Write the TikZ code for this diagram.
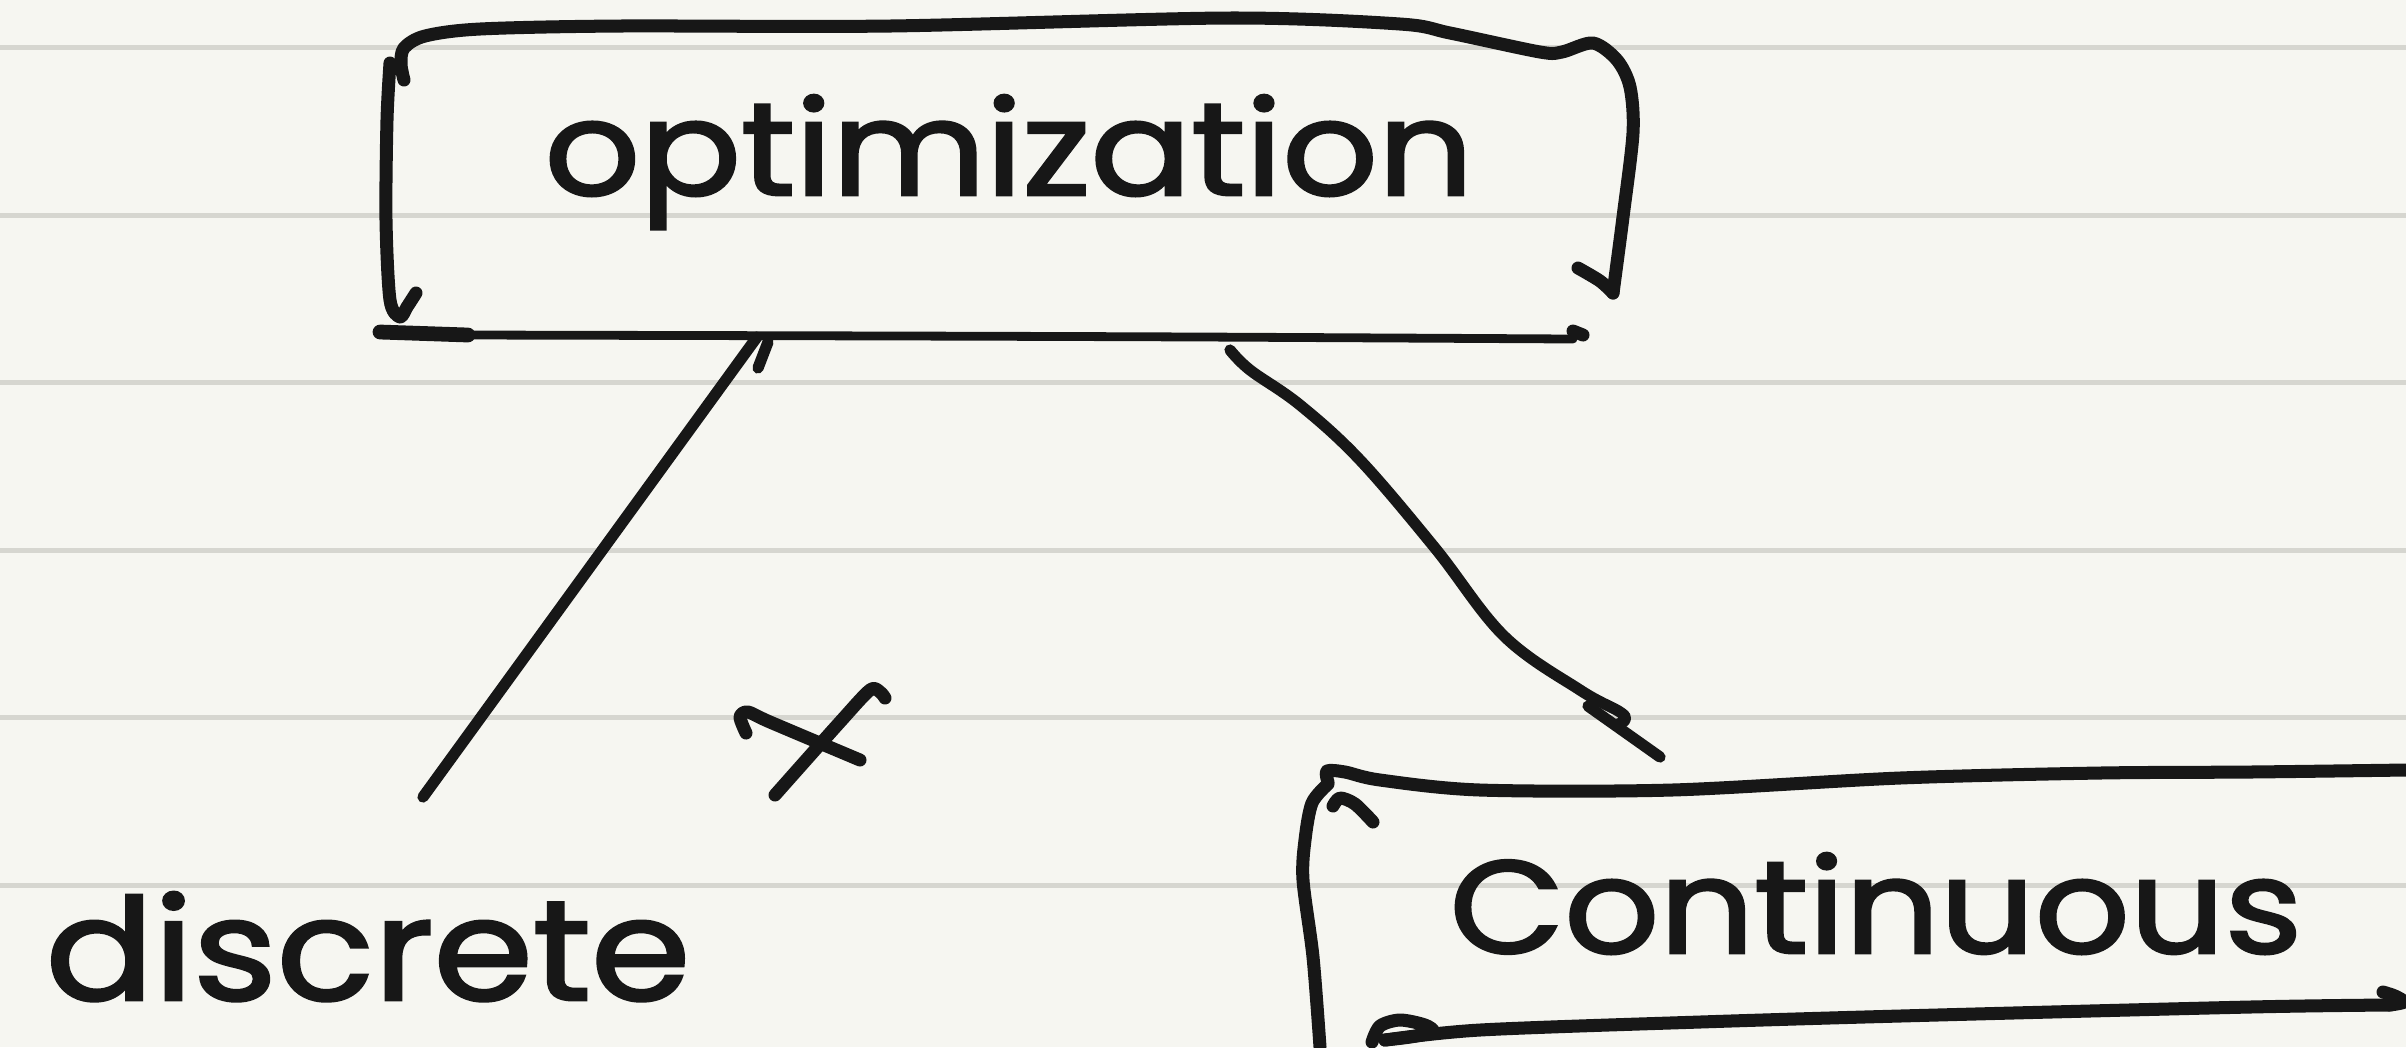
\documentclass[tikz,border=0pt]{standalone}
\usepackage{fontspec}
\setmainfont{Poppins}[FakeBold=2]
\usepackage{graphicx}
\definecolor{paper}{HTML}{F6F6F1}
\definecolor{rule}{HTML}{D6D6D0}
\definecolor{ink}{HTML}{171717}
\newcommand\fitbox[3]{\resizebox{#1}{#2}{#3}}
\tikzset{
  pen/.style={draw=ink, line width=3.7pt, line cap=round, line join=round},
  thinpen/.style={draw=ink, line width=3.2pt, line cap=round, line join=round},
  hairpen/.style={draw=ink, line width=2.5pt, line cap=round, line join=round},
  ruleline/.style={draw=rule, line width=1.4pt},
  hand/.style={inner sep=0pt, outer sep=0pt, anchor=base, text=ink},
}
\begin{document}
\begin{tikzpicture}[x=0.01cm, y=-0.01cm]
\useasboundingbox (0,0) rectangle (2406,1047);
\fill[paper] (0,0) rectangle (2406,1047);
% ruled lines
\foreach \yy in {47.7,215.2,382.7,550.2,717.7,885.2}
  \draw[ruleline] (0,\yy) -- (2406,\yy);

% texts
\node[hand] (opt) at (1009,195) {\fitbox{9.28cm}{1.0cm}{optimization}};
\node[hand] (disc) at (368,1000) {\fitbox{6.44cm}{1.08cm}{discrete}};
\node[hand] (cont) at (1876,953) {\fitbox{8.52cm}{1.0cm}{Continuous}};

% optimization box
\draw[pen] plot[smooth, tension=0.5] coordinates {(404,80) (401,64) (404,48) (425,36) (480,29) (620,26) (890,26) (1228,18) (1400,24) (1450,33) (1540,52) (1562,52) (1593,43) (1617,60) (1630,87) (1633,133) (1623,217) (1613,293)};
\draw[pen] plot[smooth, tension=0.5] coordinates {(1613,293) (1600,281) (1578,268)};
\draw[pen] plot[smooth, tension=0.5] coordinates {(390,63) (387,120) (386,220) (390,300) (400,317) (407,307) (416,293)};
\draw[pen, line width=4.2pt] (380,332) -- (468,335);
\draw[hairpen] plot[smooth, tension=0.5] coordinates {(468,335) (900,336) (1200,337) (1573,339)};
\draw[pen] (1573,331) -- (1583,335);

% connectors
\coordinate (c1s) at (757,337);
\coordinate (c1e) at (423,797);
\coordinate (c2s) at (1230,350);
\coordinate (c2e) at (1660,757);
\draw[thinpen] (c1s) -- (c1e);
\draw[thinpen] (768,342) -- (758,368);
\draw[thinpen] plot[smooth, tension=0.6] coordinates {(c2s) (1250,370) (1300,405) (1360,460) (1435,548) (1504,636) (1580,690) (1620,712) (1625,720) (1618,724)};
\draw[thinpen] (1588,706) -- (c2e);

% cross mark
\draw[pen] plot[smooth, tension=0.5] coordinates {(746,733) (740,717) (748,712) (770,722) (860,760)};
\draw[pen] plot[smooth, tension=0.5] coordinates {(775,795) (840,722) (870,690) (880,692) (885,698)};

% continuous box
\draw[pen] plot[smooth, tension=0.5] coordinates {(1328,782) (1327,771) (1345,772) (1380,780) (1480,790) (1672,790) (1900,778) (2100,773) (2250,772) (2406,770)};
\draw[pen] plot[smooth, tension=0.5] coordinates {(1328,784) (1312,803) (1305,840) (1303,880) (1313,957) (1320,1047)};
\draw[pen] plot[smooth, tension=0.5] coordinates {(1333,806) (1340,798) (1355,804) (1373,822)};
\draw[pen] plot[smooth, tension=0.5] coordinates {(1372,1042) (1380,1026) (1400,1020) (1425,1025) (1433,1032) (1410,1037) (1385,1040)};
\draw[pen] plot[smooth, tension=0.5] coordinates {(1385,1040) (1480,1030) (1700,1022) (1900,1016) (2250,1007) (2390,1005)};
\draw[pen] plot[smooth, tension=0.5] coordinates {(2390,1005) (2404,1002) (2395,996) (2383,992)};
\end{tikzpicture}
\end{document}
